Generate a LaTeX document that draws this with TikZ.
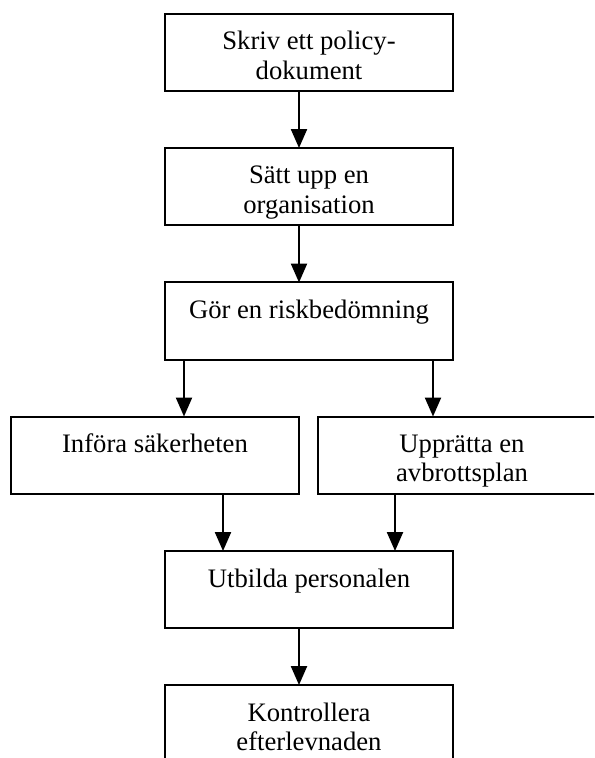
\documentclass[tikz,border=0pt]{standalone}
\usepackage{fontspec}
\setmainfont{Liberation Serif}
\usetikzlibrary{arrows.meta}
\newcommand{\steptext}[1]{\parbox[c][34.65pt][t]{129.6pt}{\centering\fontsize{12}{13.1}\selectfont\rule{0pt}{16.2pt}#1}}

\begin{document}
\begin{tikzpicture}[x=0.45pt, y=-0.45pt, >={Triangle[length=8.5pt,width=7.2pt]}, line width=0.9pt,
    stepbox/.style={draw, inner sep=0pt, outer sep=0pt}]
    % Ram
    \path[use as bounding box] (0,0) rectangle (594,758);
    \clip (0,0) rectangle (594,758);

    % Rutor
    \node[stepbox] (policy) at (309,52.5) {\steptext{Skriv ett policy-\\dokument}};
    \node[stepbox] (org) at (309,186.5) {\steptext{Sätt upp en\\organisation}};
    \node[stepbox] (risk) at (309,321) {\steptext{Gör en riskbedömning}};
    \node[stepbox] (infora) at (155,455) {\steptext{Införa säkerheten}};
    \node[stepbox] (plan) at (462,455) {\steptext{Upprätta en\\avbrottsplan}};
    \node[stepbox] (utb) at (309,589.5) {\steptext{Utbilda personalen}};
    \node[stepbox] (kontroll) at (309,723.5) {\steptext{Kontrollera\\efterlevnaden}};

    % Pilar
    \draw[->] ([xshift=-4.5pt]policy.south) -- ([xshift=-4.5pt]org.north);
    \draw[->] ([xshift=-4.5pt]org.south) -- ([xshift=-4.5pt]risk.north);
    \draw[->] ([xshift=-56.25pt]risk.south) -- ([xshift=-56.25pt]risk.south |- infora.north);
    \draw[->] ([xshift=55.8pt]risk.south) -- ([xshift=55.8pt]risk.south |- plan.north);
    \draw[->] ([xshift=-38.7pt]utb.north |- infora.south) -- ([xshift=-38.7pt]utb.north);
    \draw[->] ([xshift=38.7pt]utb.north |- plan.south) -- ([xshift=38.7pt]utb.north);
    \draw[->] ([xshift=-4.5pt]utb.south) -- ([xshift=-4.5pt]kontroll.north);
\end{tikzpicture}
\end{document}
